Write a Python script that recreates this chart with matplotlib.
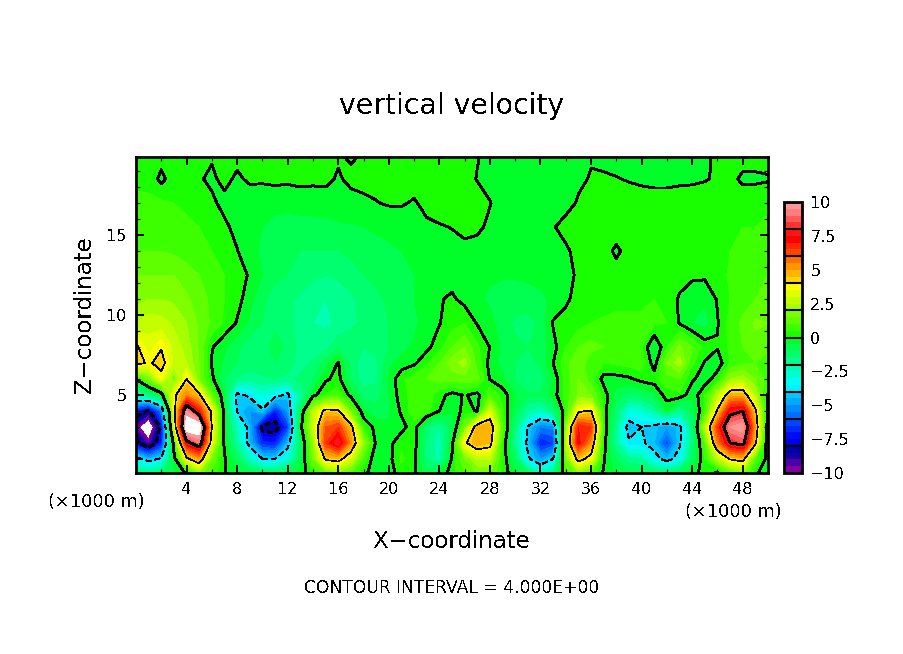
import numpy as np
import matplotlib
matplotlib.use('Agg')
import matplotlib.pyplot as plt
from matplotlib.colors import ListedColormap, BoundaryNorm
from matplotlib.cm import ScalarMappable
from matplotlib.ticker import MultipleLocator

# Data (km, m/s)
x_km = np.arange(0, 51)
z_km = [0.125, 1, 2, 3, 4, 5, 6, 7, 8, 9.5, 11, 12.5, 14, 15.5, 17, 18.5, 19.875]

w_z00 = [-1.5, -1.5, -1.2, -.6, .1, 1.8, .8, .05, -.4, -.8,
         -1, -1, -.8, -.3, .4, 1.2, 1.8, 1, .2, -.4,
         -.3, .3, .1, -.8, -.5, .3, 1, 1.5, 1.5, .4,
         -.5, -1, -2.5, -1.5, .6, 1.8, 1, -.1, -.6, -.7,
         -.8, -1, -1.2, -.7, -.3, .3, -.1, 1, 1.8, .1,
         -.3]
w_z01 = [-3.5, -4.5, -3.8, -.4, 3.7, 5, 1.5, .1, -1, -2.5,
         -4, -4, -3, -.8, 1.5, 4.2, 4.5, 3, .8, -.5,
         -.2, .6, .2, -1.5, -2.2, .1, 1.5, 2.5, 2.6, .4,
         -1, -3.8, -5, -4, 1.5, 4.5, 3.5, .1, -1, -1.8,
         -2, -3.5, -4.5, -3.5, -1, .5, 2.5, 4.1, 4.5, 1,
         -.3]
w_z02 = [-7.5, -9.5, -7, .5, 7.5, 9, 3.4, -.2, -2, -4.5,
         -6.8, -7, -4.5, -1, 2, 6.5, 8, 5.3, 2, -.15,
         -.2, .4, .3, -1.5, -2.4, -.2, 3.8, 5, 4.5, .5,
         -1.8, -4.3, -7, -6.5, 2.5, 7.3, 5.2, .3, -2, -3.8,
         -3.8, -4.5, -6.3, -4.2, -1.5, 1, 5.5, 8, 8.5, 4.3,
         -.8]
w_z03 = [-9.5, -11.5, -7.5, 3, 11, 11, 4, -.3, -2.5, -4.5,
         -8.4, -8.6, -6.5, -.3, 2.8, 6, 6.5, 4.5, .5, -.2,
         -.4, -.2, .3, -1.3, -2, -.8, 1.5, 4.8, 5, 1,
         -1.5, -4.1, -5.5, -5.3, 1.8, 7, 6.5, .6, -1.8, -4.6,
         -4, -4.3, -5, -4.3, -1.5, 2.5, 6.5, 9.5, 10, 5,
         -.5]
w_z04 = [-7, -8.3, -5.5, 3.5, 9.5, 7, 3.7, -.3, -4.1, -5,
         -4.2, -7, -5, -.8, 2.6, 4.4, 4.2, 1.5, -.4, -.8,
         -.6, .1, .8, .7, 0, -.4, .2, -.05, 3, .6,
         -.8, -2, -2.5, -1.5, .5, 3.8, 4.1, .4, -1.3, -3,
         -2.8, -2, -.5, -2, -.8, .6, 4.2, 7.5, 8, 4.3,
         -.2]
w_z05 = [-2.2, -1.5, -.5, 3.7, 5.5, 4.3, 1.2, -.5, -4.3, -3.8,
         -2.8, -3.5, -4.3, -2, -.2, .5, .8, -.2, -1.2, -1.2,
         -.5, .3, .7, .9, .2, -.2, .05, -.2, 1, .3,
         -.5, -.9, -.9, -.3, .7, 1.6, 1.5, .3, -.7, -1.2,
         -1, -.6, .3, .4, -.4, .5, 2.5, 4.8, 4.8, 2.5,
         -.05]
w_z06 = [.05, 1.5, 3.5, 1.5, 4, 1.5, .15, -1, -1.6, -1.8,
         -1.6, -1.5, -1.6, -1.4, -1, -.1, .2, -1, -1.8, -1.6,
         -.4, .4, .7, 1, 1.2, 1.2, 1.3, 1.2, -.05, -.4,
         -1, -1.6, -1.3, -.4, .7, 1.5, .7, -.2, -.2, -.1,
         .2, .3, .8, 1, .1, -.3, .3, 2, 2.3, 1.5,
         .7]
w_z07 = [4.5, 3.8, 4.5, 2.8, 2.5, 1.5, -.05, -.6, -1, -1.2,
         -1.2, -1, -1.3, -1.7, -1.4, -.7, .05, -1.2, -1.8, -1.6,
         -.6, -.3, -.1, .4, 1, 1.8, 2.2, .8, -.2, -.7,
         -1, -1.2, -.9, 0, .8, 1.5, .6, .5, .6, .7,
         .8, -.3, 1.5, 2.3, .6, -.05, -.3, .5, .9, 1,
         .8]
w_z08 = [4.2, 3.2, 3.9, 2.8, 2.3, 1.4, .05, -.4, -.9, -1.3,
         -1.2, -.8, -1.1, -1.7, -1.9, -1.7, -1.1, -1.2, -1.5, -1.3,
         -1, -.7, -.4, -.15, .3, 1, 1.5, .6, -.02, -.6,
         -.9, -1, -.8, -.2, .5, 1, 1.2, 1, .9, 1,
         .5, -.6, .5, 1.6, 1, .3, .05, .6, 1, 1.3,
         1.1]
w_z09 = [2.5, 2.8, 2.7, 2.4, 2, 1.4, .9, .4, -.05, -.6,
         -1, -1.1, -1.4, -1.7, -2, -2.1, -1.9, -1.6, -1.4, -1.2,
         -1, -.8, -.6, -.3, -.03, .3, .5, -.05, -.3, -.8,
         -1.1, -1.2, -.9, .05, .2, .3, .5, .6, .7, .7,
         .6, .6, .5, -.05, -.5, -.7, -.05, .7, 1.1, 1.6,
         1.5]
w_z10 = [1.8, 2, 2, 1.9, 1.6, 1.2, .9, .5, .2, -.3,
         -.9, -1.2, -1.4, -1.6, -1.8, -2, -1.9, -1.6, -1.3, -1.1,
         -.9, -.7, -.5, -.3, -.05, .1, -.2, -.4, -.6, -.7,
         -.7, -.7, -.6, -.4, -.1, .2, .3, .2, .3, .3,
         .4, .5, .5, -.1, -.3, -.4, .05, .5, .8, 1,
         1.2]
w_z11 = [1.5, 1.5, 1.5, 1.5, 1.2, 1, .8, .5, .2, -.05,
         -.5, -.9, -1, -1.2, -1.4, -1.5, -1.4, -1.2, -1, -.9,
         -.7, -.6, -.5, -.4, -.3, -.25, -.3, -.4, -.4, -.45,
         -.45, -.4, -.35, -.2, -.1, .05, .15, .2, .2, .3,
         .5, .5, .5, .3, .1, .1, .2, .6, .7, .9,
         1]
w_z12 = [1, 1, 1, .9, .8, .6, .5, .3, .02, -.3,
         -.6, -.8, -.9, -1, -1, -1, -1, -.9, -.8, -.7,
         -.6, -.5, -.4, -.4, -.3, -.2, -.1, -.2, -.3, -.3,
         -.35, -.4, -.3, -.25, -.05, .1, .15, .2, -.1, .2,
         .3, .3, .35, .4, .4, .45, .5, .5, .6, .7,
         .8]
w_z13 = [.8, .8, .7, .7, .6, .5, .3, .1, -.15, -.3,
         -.5, -.6, -.7, -.7, -.7, -.7, -.6, -.55, -.5, -.4,
         -.35, -.3, -.25, -.1, -.05, .02, .1, .1, -.1, -.3,
         -.35, -.3, -.2, -.02, .1, .15, .2, .2, .25, .25,
         .3, .3, .3, .3, .35, .4, .4, .45, .5, .5,
         .6]
w_z14 = [.6, .6, .6, .5, .4, .3, .1, -.15, -.3, -.35,
         -.4, -.4, -.35, -.3, -.25, -.2, -.15, -.15, -.1, -.02,
         .05, .05, -.05, .15, .3, .25, .25, .2, .02, -.2,
         -.3, -.35, -.3, -.2, -.1, .03, .15, .15, .2, .2,
         .2, .2, .2, .25, .25, .25, .3, .3, .3, .35,
         .4]
w_z15 = [.4, .35, -.15, .3, .3, .05, -.1, .15, -.1, .1,
         .1, .15, .1, .15, .1, .1, -.05, .1, .15, .15,
         .2, .2, .2, .2, .25, .25, .15, -.02, -.15, -.2,
         -.25, -.3, -.25, -.2, -.15, -.05, .02, .05, .02, -.03,
         -.08, -.12, -.12, -.1, -.08, -.03, .05, .15, -.1, -.1,
         -.05]
w_z16 = [.2, .05, .2, .25, .15, .05, .05, .15, .15, .15,
         .2, .2, .15, .1, .15, .15, .05, -.05, .05, .15,
         .2, .2, .25, .25, .2, .2, .1, .02, -.1, -.2,
         -.25, -.25, -.2, -.15, -.1, -.05, -.02, -.1, -.15, -.2,
         -.2, -.25, -.25, -.2, -.2, -.1, .1, .2, .2, .2,
         .2]

band_colors = [
    (130, 0, 160), (80, 0, 170), (20, 0, 160), (0, 0, 170),
    (0, 0, 225), (0, 10, 255), (0, 40, 255), (0, 70, 255),
    (0, 110, 255), (0, 140, 255), (0, 170, 255), (0, 200, 255),
    (0, 240, 255), (0, 255, 240), (0, 255, 210), (0, 255, 180),
    (0, 255, 140), (0, 255, 110), (0, 255, 80), (0, 255, 40),
    (25, 255, 0), (60, 255, 0), (95, 255, 0), (125, 255, 0),
    (165, 255, 0), (195, 255, 0), (225, 255, 0), (255, 255, 0),
    (255, 215, 0), (255, 180, 0), (255, 150, 0), (255, 110, 0),
    (255, 70, 0), (255, 40, 0), (255, 0, 0), (255, 20, 20),
    (255, 50, 50), (255, 90, 90), (255, 125, 125), (255, 150, 150),
]

cbar_ticks = [-10, -7.5, -5, -2.5, 0, 2.5, 5, 7.5, 10]
cbar_labels = ['\u221210', '\u22127.5', '\u22125', '\u22122.5', '0', '2.5', '5', '7.5', '10']

W, H = 904, 654

plt.rcParams['text.antialiased'] = False
plt.rcParams['font.family'] = 'DejaVu Sans'

w = np.array([w_z00, w_z01, w_z02, w_z03, w_z04, w_z05, w_z06, w_z07, w_z08,
              w_z09, w_z10, w_z11, w_z12, w_z13, w_z14, w_z15, w_z16])

levels = np.arange(-10, 10.5, 0.5)
cmap = ListedColormap([(r / 255, g / 255, b / 255) for r, g, b in band_colors])
cmap.set_over('white')
cmap.set_under('white')
norm = BoundaryNorm(levels, cmap.N)


def box(left, top, right, bottom):
    return [left / W, 1 - bottom / H, (right - left) / W, (bottom - top) / H]


def label(px, py, s, **kw):
    fig.text(px / W, 1 - py / H, s, ha=kw.pop('ha', 'center'), va='center', **kw)


fig = plt.figure(figsize=(W / 100, H / 100), dpi=100)
ax = fig.add_axes(box(136, 157, 768, 473))

ax.contourf(x_km, z_km, w, levels=levels, cmap=cmap, norm=norm, extend='both', antialiased=False)
ax.contour(x_km, z_km, w, levels=[-8, -4, 0, 4, 8], colors='k',
           linewidths=[1.4, 0.5, 1.4, 0.5, 1.4],
           linestyles=[(0, (3, 2)), (0, (8, 5)), 'solid', 'solid', 'solid'],
           antialiased=False)

ax.set_xlim(0, 50)
ax.set_ylim(0.125, 19.875)
ax.xaxis.set_major_locator(MultipleLocator(4))
ax.xaxis.set_minor_locator(MultipleLocator(2))
ax.yaxis.set_major_locator(MultipleLocator(5))
ax.yaxis.set_minor_locator(MultipleLocator(1))
ax.tick_params(which='major', direction='in', top=True, right=True, length=5.8, width=1.4, labelsize=11.5, pad=6.5)
ax.tick_params(which='minor', direction='in', top=True, right=True, length=2.9, width=0.8)
ax.set_xticks(np.arange(4, 50, 4))
for spine in ax.spines.values():
    spine.set_linewidth(2)

cax = fig.add_axes(box(784, 202, 802, 473))
cb = fig.colorbar(ScalarMappable(norm=norm, cmap=cmap), cax=cax, ticks=cbar_ticks, spacing='proportional')
cb.minorticks_off()
cb.ax.set_yticklabels(cbar_labels)
cb.ax.tick_params(length=0, labelsize=11.5, pad=6)
cb.outline.set_linewidth(2)
cax.hlines(np.arange(-8, 10, 2), -10, 10, colors='k', linewidth=1.5)

label(452, 106, 'vertical velocity', fontsize=20.4)
label(452, 541, 'X\u2212coordinate', fontsize=16.5)
label(84, 315, 'Z\u2212coordinate', fontsize=16.5, rotation=90)
label(452, 588, 'CONTOUR INTERVAL = 4.000E+00', fontsize=12.3)
label(96, 502, '(\u00d71000 m)', fontsize=12.8)
label(733, 512, '(\u00d71000 m)', fontsize=12.8)

fig.savefig('out.png', dpi=100)
